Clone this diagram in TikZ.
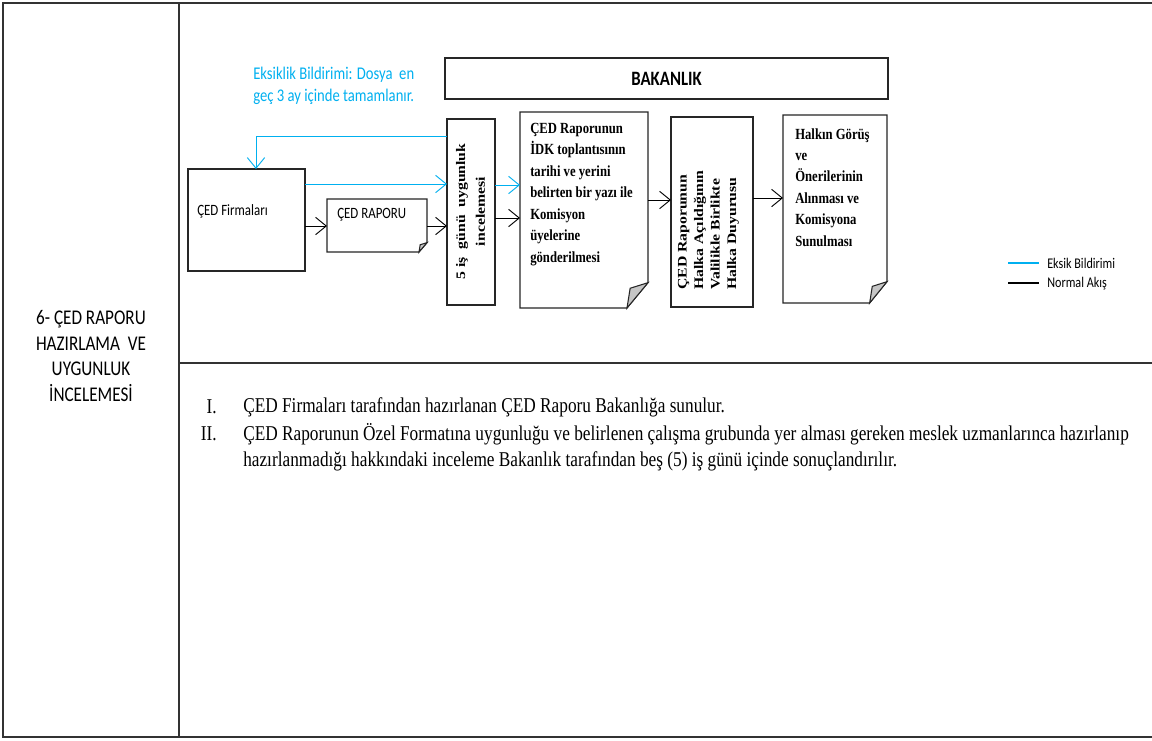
\documentclass[tikz,border=0pt]{standalone}
\usepackage{fontspec}
\usetikzlibrary{arrows.meta,fit}
\newfontfamily\tnr[FakeStretch=0.82]{Liberation Serif}
\newfontfamily\tnrr{Liberation Serif}
\newfontfamily\calf[FakeStretch=0.82]{Carlito}
\definecolor{eksik}{HTML}{00B0F0}
\newcommand\fsz[2]{\fontsize{#1}{#2}\selectfont}
\newcommand\docshp[3]{%
  \draw[boxline] (#1.north west) -- (#1.north east) -- ([yshift=#3]#1.south east) -- ([xshift=-#2]#1.south east) -- (#1.south west) -- cycle;
  \filldraw[boxline, fill=gray!45] ([yshift=#3]#1.south east) -- ([xshift=-#2]#1.south east) -- ([xshift=-0.85*#2, yshift=0.78*#3]#1.south east) -- cycle;}
\begin{document}
\begin{tikzpicture}[x=0.75pt,y=-0.75pt,
  boxline/.style={draw=black!85, line width=0.8pt},
  conn/.style={draw=black, line width=0.7pt, -{Straight Barb[length=8pt,width=13pt]}},
  bconn/.style={conn, draw=eksik},
  fitbox/.style={inner sep=0pt, outer sep=0pt},
  tbl/.style={draw=black!80, line width=1pt},
  sertxt/.style={inner sep=0pt, align=left, font=\tnr\bfseries\fsz{11.6}{16.1}},
  rottxt/.style={inner sep=0pt, rotate=90, font=\tnrr\bfseries},
  caltxt/.style={inner sep=0pt, font=\calf\fsz{11.8}{14}},
  bodytxt/.style={inner sep=0pt, font=\tnr\fsz{15.8}{20}},
]
\useasboundingbox (0,0) rectangle (1152,740);
\fill[white] (0,0) rectangle (1152,740);
% table
\draw[tbl] (1152,3) -- (3,3) -- (3,737) -- (1152,737);
\draw[tbl] (179,3) -- (179,737);
\draw[tbl] (179,363) -- (1152,363);
\node[inner sep=0pt, align=center, font=\calf\fsz{15.7}{19.1}] (title) at (91,356) {6- ÇED RAPORU\\HAZIRLAMA\ \ VE\\UYGUNLUK\\İNCELEMESİ};

% boxes
\node[fitbox, boxline, fit={(445,58) (888,99)}] (bak) {};
\node[inner sep=0pt, font=\calf\bfseries\fsz{15.3}{18}] (baktxt) at (bak.center) {BAKANLIK};

\node[fitbox, boxline, fit={(188,169) (305,271)}] (firm) {};
\node[caltxt, anchor=west] (firmtxt) at (197,211) {ÇED Firmaları};

\node[fitbox, fit={(327,199) (427,252)}] (rap) {};
\docshp{rap}{6pt}{7pt}
\node[caltxt, anchor=west] (raptxt) at (337,215) {ÇED RAPORU};

\node[fitbox, boxline, fit={(447,119) (495,305)}] (five) {};
\node[rottxt] (fivetxt) at (471,211.5) {\scalebox{1}[0.83]{\fsz{11.8}{18}\begin{tabular}{@{}c@{}}5 iş\ \ günü\ \ uygunluk\\incelemesi\end{tabular}}};

\node[fitbox, fit={(520,112) (648,308)}] (idk) {};
\docshp{idk}{15.75pt}{19pt}
\node[sertxt, anchor=north west] (idktxt) at (530,123) {ÇED Raporunun\\İDK toplantısının\\tarihi ve yerini\\belirten bir yazı ile\\Komisyon\\üyelerine\\gönderilmesi};

\node[fitbox, boxline, fit={(671,117) (753,307)}] (halka) {};
\node[rottxt, anchor=west] (halkatxt) at (708,290) {\scalebox{1}[0.83]{\fsz{11.8}{14.9}\begin{tabular}{@{}l@{}}ÇED Raporunun\\Halka Açıldığının\\Valilikle Birlikte\\Halka Duyurusu\end{tabular}}};

\node[fitbox, fit={(783,115) (887,303)}] (gorus) {};
\docshp{gorus}{13pt}{16pt}
\node[sertxt, anchor=north west] (gorustxt) at (795,128) {Halkın Görüş\\ve\\Önerilerinin\\Alınması ve\\Komisyona\\Sunulması};

% blue note
\node[inner sep=0pt, align=left, anchor=west, text=eksik, font=\calf\fsz{13.4}{16.5}] (note) at (253,86) {Eksiklik Bildirimi: Dosya\ \ en\\geç 3 ay içinde tamamlanır.};

% connectors
\draw[bconn] (five.west |- 0,136) -| (256,0 |- firm.north);
\draw[bconn] (firm.east |- 0,184) -- (five.west |- 0,184);
\draw[conn] (firm.east |- 0,226) -- (rap.west |- 0,226);
\draw[conn] (rap.east |- 0,226) -- (five.west |- 0,226);
\draw[bconn] (five.east |- 0,185) -- (idk.west |- 0,185);
\draw[conn] (five.east |- 0,218) -- (idk.west |- 0,218);
\draw[conn] (idk.east |- 0,200) -- (halka.west |- 0,200);
\draw[conn] (halka.east |- 0,198) -- (gorus.west |- 0,198);

% legend
\coordinate (lba) at (1008,263);
\coordinate (lbb) at (1039,263);
\coordinate (lka) at (1008,283);
\coordinate (lkb) at (1039,283);
\draw[eksik, line width=1.6pt] (lba) -- (lbb);
\draw[black, line width=1.6pt] (lka) -- (lkb);
\node[inner sep=0pt, anchor=west, font=\calf\fsz{11.1}{13}] (lbt) at (1047,263) {Eksik Bildirimi};
\node[inner sep=0pt, anchor=west, font=\calf\fsz{11.1}{13}] (lkt) at (1047,284) {Normal Akış};

% body text
\node[bodytxt, anchor=east] (n1) at (217,407) {I.};
\node[bodytxt, anchor=west] (t1) at (243,407) {ÇED Firmaları tarafından hazırlanan ÇED Raporu Bakanlığa sunulur.};
\node[bodytxt, anchor=east] (n2) at (217,434) {II.};
\node[bodytxt, anchor=west] (t2) at (243,434) {ÇED Raporunun Özel Formatına uygunluğu ve belirlenen çalışma grubunda yer alması gereken meslek uzmanlarınca hazırlanıp};
\node[bodytxt, anchor=west] (t3) at (243,461) {hazırlanmadığı hakkındaki inceleme Bakanlık tarafından beş (5) iş günü içinde sonuçlandırılır.};
\end{tikzpicture}
\end{document}
